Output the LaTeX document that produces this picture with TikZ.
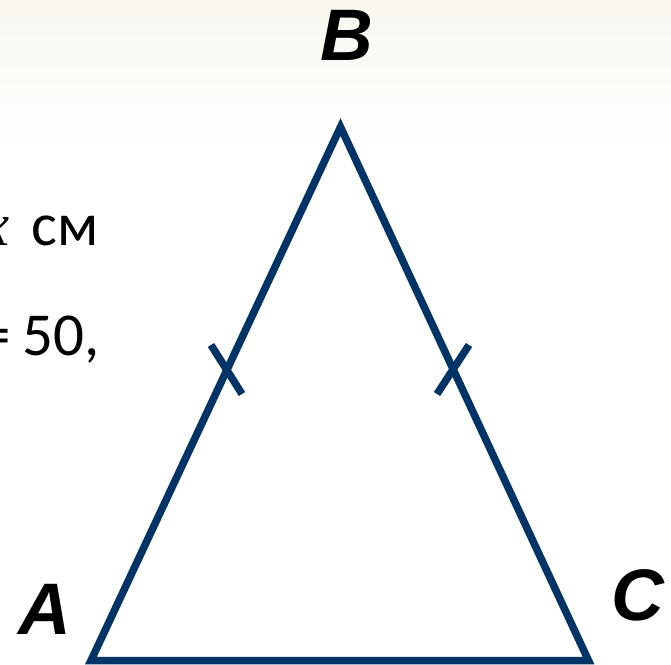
\documentclass[tikz,border=0pt]{standalone}
\usepackage{fontspec}
\setmainfont{Carlito}
\newfontfamily\labfont{Liberation Sans}
\newfontfamily\varfont{Liberation Serif}
\definecolor{tri}{RGB}{0,51,102}
\definecolor{topbg}{RGB}{246,243,234}
\definecolor{midbg}{RGB}{251,250,245}
\tikzset{
  side/.style={draw=tri, line width=7.5pt, line join=miter, miter limit=20},
  tick/.style={draw=tri, line width=7.5pt, line cap=butt},
  vlabel/.style={inner sep=0pt, font=\labfont\bfseries\itshape\fontsize{73}{80}\selectfont},
  txt/.style={inner sep=0pt, font=\fontsize{61}{70}\selectfont}
}
\begin{document}
\begin{tikzpicture}[x=1pt,y=-1pt]
\useasboundingbox (0,0) rectangle (671,664);
\clip (0,0) rectangle (671,664);
\fill[white] (0,0) rectangle (671,664);
\shade[top color=topbg, bottom color=white, middle color=midbg] (0,-40) rectangle (671,150);
% vertices
\coordinate (A) at (91,660.5);
\coordinate (B) at (340.5,127);
\coordinate (C) at (588.5,660.5);
\path[side] (A) -- (B) -- (C) -- cycle;
% ticks
\coordinate (t1a) at (211,345);
\coordinate (t1b) at (242,394);
\coordinate (t2a) at (469,345);
\coordinate (t2b) at (437,394);
\path[tick] (t1a) -- (t1b);
\path[tick] (t2a) -- (t2b);
% labels
\node[vlabel] (lB) at (347,35) {B};
\node[vlabel] (lA) at (45,609) {A};
\node[vlabel] (lC) at (638,595) {C};
% text fragments
\node[txt, anchor=base east] (tx) at (10,245) {{\varfont\itshape x}};
\node[txt, anchor=base west] (tcm) at (31,245) {см};
\node[txt, anchor=base east] (teq) at (11,355) {=};
\node[txt, anchor=base west] (t50) at (22,355) {50,};
\end{tikzpicture}
\end{document}
